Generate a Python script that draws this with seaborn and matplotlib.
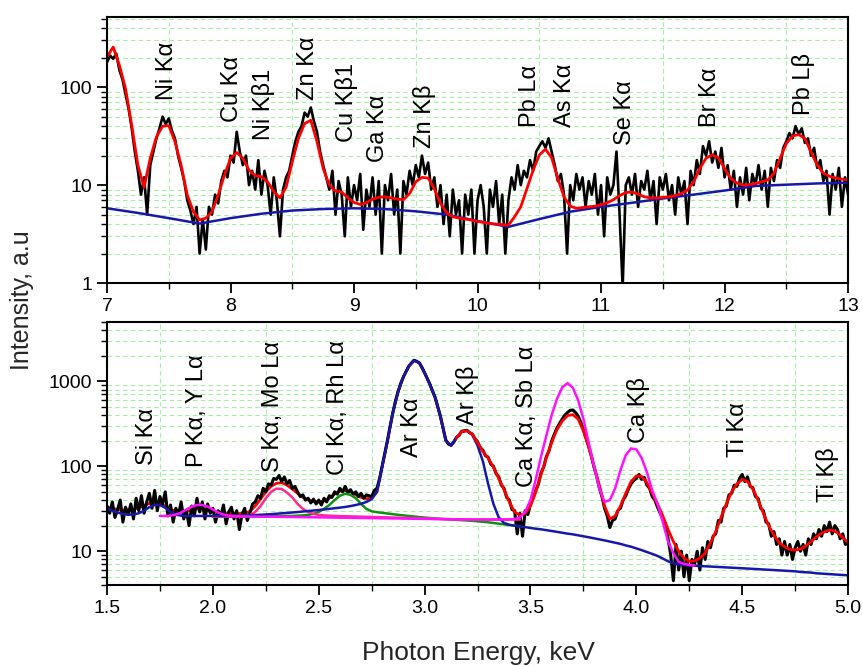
import numpy as np
import matplotlib
matplotlib.use("Agg")
import matplotlib.pyplot as plt
import seaborn as sns
from matplotlib.ticker import FixedLocator, FixedFormatter, MultipleLocator, LogLocator, NullFormatter

# ---------------- data: upper panel (7-13 keV) ----------------
top_fit_start, top_fit_step = 7.0, 0.05
top_fit = [204, 257, 168, 97, 41, 16, 9.5, 18.8, 31, 40, 40.5, 27.8, 16, 7.9, 5.35, 4.4, 4.6, 5.35, 7.9, 12.6,
           18.8, 21.5, 18.8, 14.2, 12.5, 12.2, 10.8, 8.6, 7.4, 9.5, 17.3, 30, 42.5, 46, 27.8, 14.8, 10, 8.7, 8.5, 7.4,
           6.65, 6.35, 6.6, 7.2, 7.5, 7.6, 7.4, 7.2, 7.1, 8.2, 10.8, 12.0, 11.8, 9.2, 6.5, 5.2, 4.75, 4.6, 4.5, 4.4,
           4.25, 4.15, 4.05, 4.0, 3.95, 3.9, 4.75, 6.0, 9.2, 14.2, 20.3, 23.3, 19, 11.7, 7.6, 6.1, 5.8, 5.9, 6.0, 6.1,
           6.3, 6.6, 7.1, 7.8, 8.4, 8.5, 8.1, 7.6, 7.4, 7.4, 7.5, 7.6, 7.8, 8.2, 8.9, 10.8, 14.8, 18.8, 20.4, 19,
           14.8, 11.7, 10.5, 10.0, 10.1, 10.4, 10.8, 11.3, 13.2, 18.8, 26.6, 31.7, 32.8, 30, 21.8, 16.0, 13.2, 12.3, 11.8, 11.5,
           11.3]
top_bg_energy = [7.0, 7.25, 7.5, 7.75, 8.0, 8.25, 8.5, 8.75, 9.0, 9.25, 9.5, 9.75, 10.0, 10.25, 10.5, 10.75,
                 11.0, 11.25, 11.5, 11.75, 12.0, 12.25, 12.5, 12.75, 13.0]
top_bg = [5.8, 5.2, 4.6, 4.05, 4.6, 5.1, 5.5, 5.7, 5.8, 5.7, 5.4, 5.0, 4.3, 3.75, 4.5, 5.35,
          6.0, 6.6, 7.3, 8.0, 8.8, 9.8, 10.1, 10.4, 10.6]
top_raw_start, top_raw_step = 7.0, 0.025
top_raw = [180, 210, 195, 220, 150, 120, 85, 60, 38, 22, 14, 8, 12, 5, 16, 22, 30, 38, 50, 42,
           48, 36, 30, 20, 15, 11, 7, 5.5, 4, 6, 2, 4.5, 2.2, 6, 5, 8, 6.5, 11, 14, 12,
           20, 17, 35, 22, 16, 20, 10, 14, 9, 18, 8, 14, 10, 5, 12, 7, 3, 9, 12, 14,
           20, 28, 35, 40, 55, 50, 62, 45, 35, 22, 16, 12, 9, 14, 5, 11, 8, 3, 12, 6,
           10, 7, 13, 3.5, 9, 6, 12, 5, 11, 2, 10, 7, 13, 5, 9, 2, 11, 8, 14, 10,
           16, 12, 20, 13, 17, 9, 12, 6, 10, 4, 8, 3, 9, 5, 7, 2, 8, 5, 9, 2,
           7, 10, 6, 2, 9, 6, 11, 4, 8, 2, 7, 12, 9, 16, 10, 14, 12, 18, 14, 22,
           25, 28, 24, 30, 22, 16, 11, 13, 8, 2, 10, 7, 13, 9, 12, 6, 11, 8, 13, 5,
           10, 3, 12, 8, 10, 22, 5, 0.9, 10, 12, 8, 13, 6, 11, 9, 14, 7, 11, 4, 12,
           9, 13, 7, 10, 5, 12, 8, 11, 4, 14, 10, 18, 13, 25, 20, 28, 17, 22, 15, 24,
           12, 16, 9, 14, 6, 12, 8, 15, 7, 13, 10, 16, 9, 14, 6, 15, 11, 18, 15, 24,
           28, 34, 30, 40, 33, 38, 27, 30, 20, 24, 15, 18, 11, 14, 5, 13, 9, 15, 6, 12,
           8]
top_labels = ["Ni K\u03b1", "Cu K\u03b1", "Ni K\u03b21", "Zn K\u03b1", "Cu K\u03b21", "Ga K\u03b1", "Zn K\u03b2",
              "Pb L\u03b1", "As K\u03b1", "Se K\u03b1", "Br K\u03b1", "Pb L\u03b2"]
top_label_x = [7.486, 8.012, 8.263, 8.628, 8.943, 9.194, 9.567, 10.425, 10.709, 11.194, 11.883, 12.636]
top_label_y = [73.7, 43.9, 28.8, 73.7, 27.5, 17.2, 23.9, 39.1, 39.1, 25.6, 39.1, 51.8]

# ---------------- data: lower panel (1.5-5 keV) ----------------
bot_fit_start, bot_fit_step = 1.5, 0.025
bot_fit = [33, 32, 31, 30.5, 30.5, 31, 32.5, 34.5, 36.5, 37, 36.5, 34, 31, 29.5, 29, 29.5, 30.5, 31.5, 31.5, 30.5,
           29.5, 28.5, 28, 27.8, 27.8, 27.8, 28, 29.5, 34, 41, 50, 58, 63, 64, 60, 54, 48, 43, 40, 38.5,
           38, 39, 42, 47, 51, 52, 50, 46, 43, 41.5, 42, 50, 100, 200, 430, 760, 1130, 1500, 1760, 1650,
           1260, 920, 640, 380, 200, 175, 215, 255, 262, 238, 190, 150, 125, 98, 72, 53, 38, 29, 26.5, 28,
           34, 50, 80, 125, 190, 270, 340, 395, 405, 360, 260, 170, 100, 60, 34, 24, 26, 34, 48, 66,
           77, 76, 64, 48, 36, 26, 18, 13, 10, 8.3, 7.6, 7.7, 8.3, 9.5, 12.5, 17, 25, 36, 50, 62,
           70, 66, 54, 40, 28, 20, 15.5, 12.5, 11.3, 10.5, 10.3, 10.6, 11.5, 13, 14.7, 16.3, 17.4, 17.7, 16.5, 14.5,
           12.5]
bot_blue = [32, 30, 28.5, 27.5, 27, 27, 28, 30, 33, 35, 35, 32.5, 29, 27, 26.2, 26, 26, 26, 26, 26,
            26, 26, 26, 26, 26, 26, 26.2, 26.4, 26.6, 26.8, 27, 27.3, 27.6, 27.9, 28.2, 28.5, 28.9, 29.3, 29.7, 30.1,
            30.5, 31, 31.5, 32, 32.6, 33.2, 34, 35, 36.2, 38, 41, 50, 100, 200, 430, 760, 1130, 1500, 1760, 1650,
            1260, 920, 640, 380, 200, 175, 215, 255, 262, 235, 175, 115, 62, 36, 25, 21.5, 20.5, 20, 19.5, 19.2,
            18.8, 18.4, 18.1, 17.7, 17.3, 16.9, 16.5, 16.1, 15.8, 15.4, 15, 14.6, 14.2, 13.8, 13.4, 13, 12.6, 12.2, 11.7, 11.3,
            10.8, 10.3, 9.8, 9.3, 8.8, 8.2, 7.6, 7.2, 7.0, 6.9, 6.8, 6.75, 6.7, 6.65, 6.6, 6.55, 6.5, 6.45, 6.4, 6.35,
            6.3, 6.25, 6.2, 6.15, 6.1, 6.05, 6.0, 5.95, 5.9, 5.85, 5.8, 5.7, 5.65, 5.6, 5.5, 5.45, 5.4, 5.35, 5.3, 5.25,
            5.2]
bot_green_start = 2.0
bot_green = [25.5, 25.5, 25.5, 25.5, 25.5, 25.5, 25.5, 25.6, 25.6, 25.7, 25.7, 25.8, 25.8, 25.9, 26, 26, 26.2, 26.4, 26.8, 27.5,
             29, 31.5, 35, 40, 45, 47.5, 46, 42, 36, 31.5, 29.5, 28.8, 28.3, 27.8, 27.3, 26.8, 26.4, 26, 25.6, 25.2,
             24.9, 24.6, 24.3, 24, 23.8, 23.6, 23.4, 23.2, 23, 22.8, 22.5, 22.2, 21.9, 21.5, 21.1, 20.7, 20.3, 20, 19.6]
bot_pink_start = 2.0
bot_pink = [25.5, 25.5, 25.5, 25.5, 25.5, 25.5, 25.7, 26.5, 29, 34, 42, 50, 54.5, 54, 49, 43, 36, 31.5, 29, 27.5,
            26.8, 26.4, 26.2, 26, 25.9, 25.8, 25.7, 25.6, 25.5, 25.4, 25.3, 25.2, 25.1, 25, 24.9, 24.8, 24.7, 24.6, 24.5, 24.4,
            24.3, 24.2, 24.1, 24.0, 23.9, 23.8, 23.8, 23.7, 23.7, 23.6, 23.6, 23.6, 23.6, 23.6, 23.6, 23.6, 23.6, 23.6, 23.6]
bot_magenta_start = 1.75
bot_magenta = [26, 26, 26.2, 27, 28.5, 31, 33.5, 35, 35, 33.5, 31, 28.5, 27, 26.2, 26,
               25.8, 25.7, 25.6, 25.6, 25.5, 25.5, 25.5, 25.4, 25.4, 25.3, 25.3, 25.2, 25.2, 25.1, 25.1,
               25, 25, 24.9, 24.9, 24.8, 24.8, 24.7, 24.7, 24.6, 24.6, 24.5, 24.5, 24.4, 24.4, 24.3,
               24.3, 24.2, 24.2, 24.1, 24.1, 24, 24, 23.9, 23.9, 23.8, 23.8, 23.7, 23.7, 23.6, 23.6,
               23.6, 23.6, 23.6, 23.6, 23.6, 23.6, 23.7, 24, 25, 29, 40, 70, 130, 230, 400,
               620, 850, 950, 840, 600, 360, 190, 100, 55, 38, 40, 55, 90, 135, 162,
               158, 125, 85, 52, 36, 22, 13, 9.5, 7.5, 7.1, 6.9, 6.8]
bot_raw_start, bot_raw_step = 1.5, 0.0125
bot_raw = [34, 28, 38, 25, 31, 40, 22, 33,
           27, 36, 24, 42, 30, 45, 28, 38,
           48, 32, 52, 30, 44, 36, 50, 26,
           35, 22, 32, 27, 38, 24, 30, 20,
           34, 26, 42, 29, 38, 24, 36, 28,
           32, 22, 30, 26, 35, 21, 29, 33,
           24, 30, 18, 27, 32, 23, 28, 36,
           38, 45, 42, 55, 50, 62, 60, 72,
           70, 78, 66, 75, 62, 68, 55, 58,
           50, 44, 46, 40, 42, 37, 41, 36,
           40, 35, 42, 38, 45, 43, 50, 47,
           55, 50, 58, 49, 53, 47, 50, 44,
           48, 42, 46, 45, 44, 52, 55, 72,
           102, 145, 205, 300, 425, 590, 760, 950,
           1130, 1310, 1500, 1640, 1770, 1720, 1650, 1460,
           1260, 1080, 925, 765, 645, 500, 385, 282,
           205, 182, 178, 192, 218, 232, 258, 262,
           265, 248, 240, 212, 195, 166, 155, 133,
           128, 106, 100, 82, 75, 60, 55, 43,
           40, 31, 30, 16, 28, 15, 30, 27,
           36, 42, 52, 62, 84, 98, 130, 152,
           198, 238, 282, 320, 360, 400, 430, 455,
           460, 430, 390, 330, 270, 215, 170, 132,
           98, 76, 56, 44, 32, 26, 19, 23,
           24, 30, 32, 40, 45, 54, 62, 68,
           72, 80, 70, 74, 60, 55, 44, 40,
           33, 28, 24, 20, 14, 9, 4.5, 12,
           6, 10, 5, 9, 4.5, 8, 7, 10,
           6, 11, 8, 13, 11, 15, 16, 23,
           22, 32, 34, 46, 48, 60, 58, 72,
           80, 66, 75, 58, 56, 44, 42, 32,
           30, 22, 21, 15, 17, 12, 14, 9,
           13, 9, 12, 8, 11, 13, 10, 12,
           9, 14, 12, 16, 14, 18, 15, 20,
           17, 22, 16, 20, 18, 14, 16, 12,
           13]
bot_labels = ["Si K\u03b1", "P K\u03b1, Y L\u03b1", "S K\u03b1, Mo L\u03b1", "Cl K\u03b1, Rh L\u03b1", "Ar K\u03b1",
              "Ar K\u03b2", "Ca K\u03b1, Sb L\u03b1", "Ca K\u03b2", "Ti K\u03b1", "Ti K\u03b2"]
bot_label_x = [1.689, 1.925, 2.284, 2.591, 2.941, 3.201, 3.484, 4.008, 4.481, 4.901]
bot_label_y = [103, 97, 85, 78.3, 128, 303, 56.6, 186, 128, 37.7]


def grid_of(start, step, vals):
    return start + step * np.arange(len(vals))


# ---------------- figure ----------------
sns.set_theme(style="ticks")
plt.rcParams["font.family"] = ["Liberation Sans", "DejaVu Sans"]
plt.rcParams["axes.linewidth"] = 1.5

fig = plt.figure(figsize=(8.63, 6.66), dpi=100)
ax1 = fig.add_axes([0.124, 0.575, 0.8587, 0.3994])
ax2 = fig.add_axes([0.124, 0.1216, 0.8587, 0.395])

GRID = "#a8eca8"
BLUE = "#1818a8"
for ax in (ax1, ax2):
    ax.set_yscale("log")
    ax.set_facecolor("white")

# upper panel
sns.lineplot(x=grid_of(top_raw_start, top_raw_step, top_raw), y=top_raw, ax=ax1, color="black",
             lw=1.9, estimator=None, sort=False)
sns.lineplot(x=top_bg_energy, y=top_bg, ax=ax1, color=BLUE, lw=1.8, estimator=None, sort=False)
sns.lineplot(x=grid_of(top_fit_start, top_fit_step, top_fit), y=top_fit, ax=ax1, color="#ff0000",
             lw=2.0, estimator=None, sort=False)

# lower panel
sns.lineplot(x=grid_of(bot_raw_start, bot_raw_step, bot_raw), y=bot_raw, ax=ax2, color="black",
             lw=2.2, estimator=None, sort=False)
sns.lineplot(x=grid_of(bot_magenta_start, bot_fit_step, bot_magenta), y=bot_magenta, ax=ax2, color="#ff10ff",
             lw=1.8, estimator=None, sort=False)
sns.lineplot(x=grid_of(bot_green_start, bot_fit_step, bot_green), y=bot_green, ax=ax2, color="#109010",
             lw=1.8, estimator=None, sort=False)
sns.lineplot(x=grid_of(bot_pink_start, bot_fit_step, bot_pink), y=bot_pink, ax=ax2, color="#ff2a8a",
             lw=1.8, estimator=None, sort=False)
sns.lineplot(x=grid_of(bot_fit_start, bot_fit_step, bot_blue), y=bot_blue, ax=ax2, color=BLUE,
             lw=1.8, estimator=None, sort=False)
sns.lineplot(x=grid_of(bot_fit_start, bot_fit_step, bot_fit)[66:], y=bot_fit[66:], ax=ax2, color="#ff0000",
             lw=2.0, estimator=None, sort=False)
sns.lineplot(x=grid_of(bot_fit_start, bot_fit_step, bot_fit)[:67], y=bot_fit[:67], ax=ax2, color="#ff0000",
             lw=2.0, estimator=None, sort=False, zorder=1.9)
# bring the magenta Ca peaks over the red fit as in the original
ax2.lines[1].set_zorder(2.5)

# axes limits / ticks
ax1.set_xlim(7, 13)
ax1.set_ylim(1, 520)
ax1.xaxis.set_major_locator(MultipleLocator(1))
ax1.xaxis.set_minor_locator(MultipleLocator(0.5))
ax1.yaxis.set_major_locator(FixedLocator([1, 10, 100]))
ax1.yaxis.set_major_formatter(FixedFormatter(["1", "10", "100"]))

ax2.set_xlim(1.5, 5.0)
ax2.set_ylim(4, 5000)
ax2.xaxis.set_major_locator(MultipleLocator(0.5))
ax2.xaxis.set_major_formatter(matplotlib.ticker.FormatStrFormatter("%.1f"))
ax2.xaxis.set_minor_locator(MultipleLocator(0.25))
ax2.yaxis.set_major_locator(FixedLocator([10, 100, 1000]))
ax2.yaxis.set_major_formatter(FixedFormatter(["10", "100", "1000"]))

for ax in (ax1, ax2):
    ax.yaxis.set_minor_locator(LogLocator(base=10, subs=np.arange(2, 10), numticks=20))
    ax.yaxis.set_minor_formatter(NullFormatter())
    ax.tick_params(which="major", direction="out", length=7, width=1.3, labelsize=14, color="black",
                   labelcolor="black")
    ax.tick_params(which="minor", direction="out", length=4, width=1.0, color="black")
    ax.grid(False)
    ax.grid(which="minor", color=GRID, linestyle=(0, (4, 3)), linewidth=0.8)
    ax.set_axisbelow(True)
    for s in ax.spines.values():
        s.set_color("black")
        s.set_linewidth(1.5)
    ax.set_xlabel("")
    ax.set_ylabel("")

for lab, x, y in zip(top_labels, top_label_x, top_label_y):
    ax1.text(x, y, lab, rotation=90, ha="center", va="bottom", fontsize=17, color="black")
for lab, x, y in zip(bot_labels, bot_label_x, bot_label_y):
    ax2.text(x, y, lab, rotation=90, ha="center", va="bottom", fontsize=17, color="black")

fig.text(22 / 863, 1 - 300 / 666, "Intensity, a.u", rotation=90, ha="center", va="center", fontsize=18)
fig.text(478 / 863, 1 - 653 / 666, "Photon Energy, keV", ha="center", va="center", fontsize=19)

fig.savefig("out.png", dpi=100, facecolor="white")
